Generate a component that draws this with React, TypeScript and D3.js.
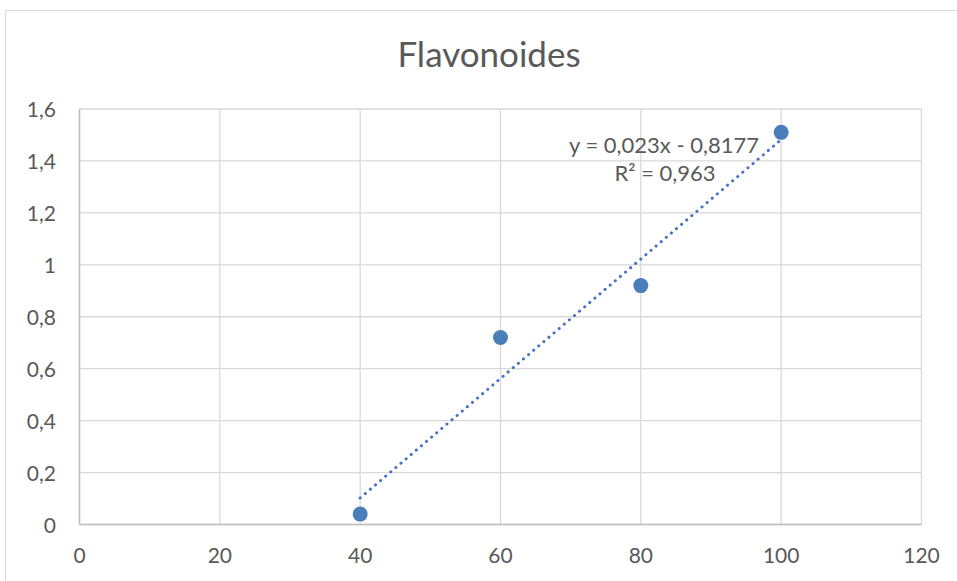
import React from "react";
import * as d3 from "d3";

const title = "Flavonoides";
const xValues = [40, 60, 80, 100];
const yValues = [0.04, 0.72, 0.92, 1.51];
const xTicks = [0, 20, 40, 60, 80, 100, 120];
const yTicks = [0, 0.2, 0.4, 0.6, 0.8, 1, 1.2, 1.4, 1.6];
const slope = 0.023;
const intercept = -0.8177;
const equationLabel = "y = 0,023x - 0,8177";
const r2Label = "R² = 0,963";

const W = 957;
const H = 581;
const left = 79.5;
const right = 921.5;
const top = 109;
const bottom = 524.5;

const fmt = (v: number) => String(v).replace(".", ",");

export default function App() {
  const x = d3.scaleLinear().domain([0, 120]).range([left, right]);
  const y = d3.scaleLinear().domain([0, 1.6]).range([bottom, top]);
  const xMin = d3.min(xValues)!;
  const xMax = d3.max(xValues)!;
  const trend = d3
    .line<number>()
    .x((d) => x(d))
    .y((d) => y(slope * d + intercept))([xMin, xMax]);
  const font = "Lato, sans-serif";
  return (
    <svg
      width={W}
      height={H}
      style={{ position: "absolute", left: 0, top: 0, background: "#fff" }}
      fontFamily={font}
    >
      <rect x={5.5} y={10.5} width={W + 10} height={H + 10} fill="#fff" stroke="#d9d9d9" />
      <text x={489} y={67} textAnchor="middle" fontSize={35} fill="#595959">
        {title}
      </text>
      {yTicks.map((t) => (
        <line key={"gy" + t} x1={left} x2={right} y1={y(t)} y2={y(t)} stroke="#d9d9d9" strokeWidth={1.3} />
      ))}
      {xTicks.map((t) => (
        <line key={"gx" + t} x1={x(t)} x2={x(t)} y1={top} y2={bottom} stroke="#d9d9d9" strokeWidth={1.3} />
      ))}
      <line x1={left} x2={left} y1={top} y2={bottom} stroke="#bfbfbf" strokeWidth={1.5} />
      <line x1={left} x2={right} y1={bottom} y2={bottom} stroke="#bfbfbf" strokeWidth={1.5} />
      {yTicks.map((t) => (
        <text key={"ly" + t} x={56} y={y(t) + 8} textAnchor="end" fontSize={21} fill="#595959">
          {fmt(t)}
        </text>
      ))}
      {xTicks.map((t) => (
        <text key={"lx" + t} x={x(t)} y={563} textAnchor="middle" fontSize={21} fill="#595959">
          {fmt(t)}
        </text>
      ))}
      <path
        d={trend || ""}
        stroke="#4472c4"
        strokeWidth={3}
        strokeDasharray="0.1 6.6"
        strokeLinecap="round"
        fill="none"
      />
      {xValues.map((v, i) => (
        <circle key={"p" + i} cx={x(v)} cy={y(yValues[i])} r={7.5} fill="#4a7ebb" />
      ))}
      <text x={664} y={153} textAnchor="middle" fontSize={22} fill="#595959">
        {equationLabel}
      </text>
      <text x={665} y={181} textAnchor="middle" fontSize={22} fill="#595959">
        {r2Label}
      </text>
    </svg>
  );
}
